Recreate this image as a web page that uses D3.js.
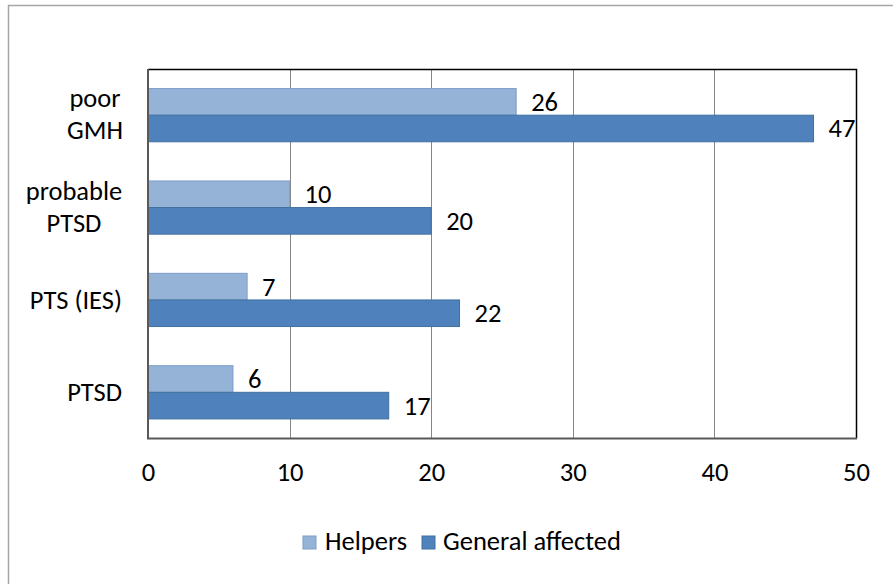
<!DOCTYPE html>
<html><head><meta charset="utf-8">
<script src="https://cdn.jsdelivr.net/npm/d3@7"></script>
<style>
html,body{margin:0;padding:0;background:#fff;}
svg{display:block;font-family:Carlito,Calibri,Lato,sans-serif;}
</style></head>
<body><svg id="c" width="893" height="584"></svg>
<script>
const categories = [["poor","GMH"],["probable","PTSD"],["PTS (IES)"],["PTSD"]];
const seriesNames = ["Helpers","General affected"];
const helpers = [26,10,7,6];
const generalAffected = [47,20,22,17];
const xTicks = [0,10,20,30,40,50];

const colors = ["#95B3D7","#4F81BD"];
const strokes = ["#7C9DC9","#41709F"];
const fs = 26.5;

const svg = d3.select("#c");
// outer chart border
svg.append("rect").attr("x",8.5).attr("y",5.5).attr("width",900).attr("height",600)
  .attr("fill","none").attr("stroke","#A6A6A6").attr("stroke-width",1.5);

const L=148,R=856,T=69,B=438.5;
const x = d3.scaleLinear().domain([0,50]).range([L,R]);
const y = d3.scaleBand().domain(d3.range(categories.length)).range([T,B]).paddingInner(0).paddingOuter(0);
const barH = 26.6;

// gridlines
svg.append("g").selectAll("line").data(xTicks.slice(1,-1)).join("line")
  .attr("x1",d=>Math.round(x(d))+0.5).attr("x2",d=>Math.round(x(d))+0.5)
  .attr("y1",T).attr("y2",B).attr("stroke","#868686").attr("stroke-width",1);

// plot border top/right
svg.append("path").attr("d",`M${L},${T+0.5}H${R+0.5}V${B}`).attr("fill","none").attr("stroke","#000").attr("stroke-width",1.5);

const data = categories.map((c,i)=>({i, vals:[helpers[i],generalAffected[i]]}));
const g = svg.append("g");
data.forEach(d=>{
  const c = y(d.i)+y.bandwidth()/2;
  d.vals.forEach((v,s)=>{
    const top = s===0 ? c-barH : c;
    g.append("rect").attr("x",x(0)).attr("y",top).attr("width",x(v)-x(0)).attr("height",barH)
      .attr("fill",colors[s]).attr("stroke",strokes[s]).attr("stroke-width",1);
    g.append("text").attr("x",x(v)+15).attr("y",top+barH/2+9).attr("font-size",fs).attr("fill","#000").text(v);
  });
});

// axes lines (left & bottom)
svg.append("path").attr("d",`M${L},${T}V${B}H${R+1}`).attr("fill","none").attr("stroke","#595959").attr("stroke-width",2);

// x tick labels
const xAxis = d3.axisBottom(x).tickValues(xTicks).tickSize(0).tickPadding(0);
const ax = svg.append("g").attr("transform",`translate(0,${B})`).call(xAxis);
ax.select(".domain").remove();
ax.selectAll("text").attr("font-size",fs).attr("font-family","Carlito,Calibri,Lato,sans-serif").attr("fill","#000").attr("dy",null).attr("y",42);

// category labels
const catX = [95,74,null,null];
categories.forEach((lines,i)=>{
  const c = y(i)+y.bandwidth()/2;
  const t = svg.append("text").attr("font-size",fs).attr("fill","#000");
  if(lines.length===1){
    t.attr("x",122).attr("y",c+9).attr("text-anchor","end").text(lines[0]);
  } else {
    t.attr("text-anchor","middle");
    lines.forEach((ln,k)=>{
      t.append("tspan").attr("x",catX[i]).attr("y",c-8+k*32).text(ln);
    });
  }
});

// legend
const leg = svg.append("g");
const legX = [303,422], legTX=[325,443];
seriesNames.forEach((n,s)=>{
  leg.append("rect").attr("x",legX[s]).attr("y",536).attr("width",13).attr("height",13)
    .attr("fill",colors[s]).attr("stroke",strokes[s]);
  leg.append("text").attr("x",legTX[s]).attr("y",550).attr("font-size",fs).attr("fill","#000").text(n);
});
</script></body></html>
